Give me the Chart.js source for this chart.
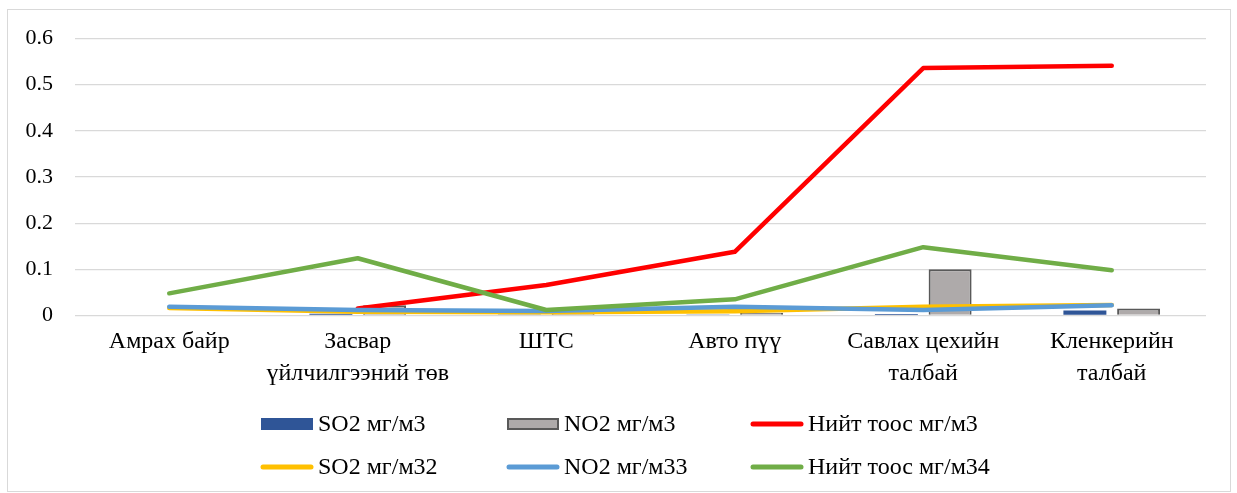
<!DOCTYPE html>
<html>
<head>
<meta charset="utf-8">
<script src="https://cdn.jsdelivr.net/npm/chart.js@4/dist/chart.umd.min.js"></script>
<style>
    html, body { margin: 0; padding: 0; background: #fff; }
    #wrap { position: absolute; left: 0; top: 0; width: 1237px; height: 493px; }
</style>
</head>
<body>
<div id="wrap"><canvas id="grafico"></canvas></div>
<script>
const categorias = ['Амрах байр', ['Засвар', 'үйлчилгээний төв'], 'ШТС', 'Авто пүү', ['Савлах цехийн', 'талбай'], ['Кленкерийн', 'талбай']];
const so2Bar = [null, 0.004, 0.002, 0.002, 0.003, 0.011];
const no2Bar = [null, 0.022, 0.005, 0.006, 0.100, 0.015];
const toosLine = [null, 0.015, 0.066, 0.138, 0.536, 0.541];
const so2Line = [0.016, 0.008, 0.007, 0.009, 0.019, 0.023];
const no2Line = [0.019, 0.012, 0.010, 0.019, 0.012, 0.022];
const toosLine2 = [0.048, 0.124, 0.012, 0.035, 0.148, 0.098];
const yTicks = [0, 0.1, 0.2, 0.3, 0.4, 0.5, 0.6];

const FONTE = '"Liberation Serif", "Times New Roman", serif';

// legenda em grade 3 x 2, igual ao Excel
const legendaGrade = {
    id: 'legendaGrade',
    beforeDraw(chart) {
        const ctx = chart.ctx;
        ctx.save();
        ctx.strokeStyle = '#d9d9d9';
        ctx.lineWidth = 1;
        ctx.strokeRect(7.5, 9.5, 1223, 482);
        ctx.restore();
    },
    afterDraw(chart) {
        const ctx = chart.ctx;
        const colunas = [261, 507, 751];
        const linhas = [424, 467];
        const itens = chart.options.plugins.legendaGrade.itens;
        ctx.save();
        itens.forEach((idx, i) => {
            const ds = chart.data.datasets[idx];
            const x = colunas[i % 3];
            const y = linhas[Math.floor(i / 3)];
            if (ds.type === 'bar') {
                ctx.fillStyle = ds.backgroundColor;
                ctx.fillRect(x, y - 6, 52, 12);
                if (ds.borderWidth) {
                    ctx.strokeStyle = ds.borderColor;
                    ctx.lineWidth = 2;
                    ctx.strokeRect(x + 1, y - 5, 50, 10);
                }
            } else {
                ctx.strokeStyle = ds.borderColor;
                ctx.lineWidth = 5;
                ctx.lineCap = 'round';
                ctx.beginPath();
                ctx.moveTo(x + 2, y);
                ctx.lineTo(x + 50, y);
                ctx.stroke();
            }
            ctx.fillStyle = '#000';
            ctx.font = '24px ' + FONTE;
            ctx.textBaseline = 'middle';
            ctx.textAlign = 'left';
            ctx.fillText(ds.label, x + 57, y + 1);
        });
        ctx.restore();
    }
};

function linha(label, data, cor, ordem) {
    return {
        type: 'line',
        label: label,
        data: data,
        borderColor: cor,
        backgroundColor: cor,
        borderWidth: 4.5,
        borderCapStyle: 'round',
        borderJoinStyle: 'round',
        pointRadius: 0,
        tension: 0,
        spanGaps: true,
        order: ordem,
    };
}

function iniciarGrafico() {
    const el = document.getElementById('grafico');
    new Chart(el, {
        type: 'bar',
        data: {
            labels: categorias,
            datasets: [
                {
                    type: 'bar',
                    label: 'SO2 мг/м3',
                    data: so2Bar,
                    backgroundColor: '#2f5597',
                    categoryPercentage: 0.57,
                    barPercentage: 0.8,
                    order: 5,
                },
                {
                    type: 'bar',
                    label: 'NO2 мг/м3',
                    data: no2Bar,
                    backgroundColor: '#aeaaaa',
                    borderColor: '#595959',
                    borderWidth: 2,
                    categoryPercentage: 0.57,
                    barPercentage: 0.8,
                    order: 6,
                },
                linha('Нийт тоос мг/м3', toosLine, '#ff0000', 4),
                linha('SO2 мг/м32', so2Line, '#ffc000', 3),
                linha('NO2 мг/м33', no2Line, '#5b9bd5', 2),
                linha('Нийт тоос мг/м34', toosLine2, '#70ad47', 1),
            ],
        },
        plugins: [legendaGrade],
        options: {
            responsive: true,
            maintainAspectRatio: false,
            animation: false,
            layout: { padding: { left: 0, right: 31, top: 38.5, bottom: 0 } },
            plugins: {
                legend: { display: false },
                tooltip: { enabled: false },
                legendaGrade: { itens: [0, 1, 2, 3, 4, 5] },
            },
            scales: {
                x: {
                    grid: { display: false, drawTicks: false },
                    border: { display: false },
                    ticks: {
                        color: '#000',
                        padding: 10.5,
                        maxRotation: 0,
                        autoSkip: false,
                        font: { family: FONTE, size: 24, lineHeight: 1.333 },
                    },
                    afterFit(s) { s.height = 493 - 315.5; },
                },
                y: {
                    min: 0,
                    max: 0.6,
                    afterBuildTicks(s) { s.ticks = yTicks.map(v => ({ value: v })); },
                    grid: { color: '#d9d9d9', lineWidth: 1.3, drawTicks: false },
                    border: { display: false },
                    ticks: {
                        color: '#000',
                        padding: 22,
                        font: { family: FONTE, size: 22 },
                        callback: v => (v === 0 ? '0' : v.toFixed(1)),
                    },
                    afterFit(s) { s.width = 75; },
                },
            },
        },
    });
}

document.addEventListener('DOMContentLoaded', () => {
    if (document.fonts && document.fonts.load) {
        document.fonts.load('24px "Liberation Serif"').then(iniciarGrafico, iniciarGrafico);
    } else {
        iniciarGrafico();
    }
});
</script>
</body>
</html>
